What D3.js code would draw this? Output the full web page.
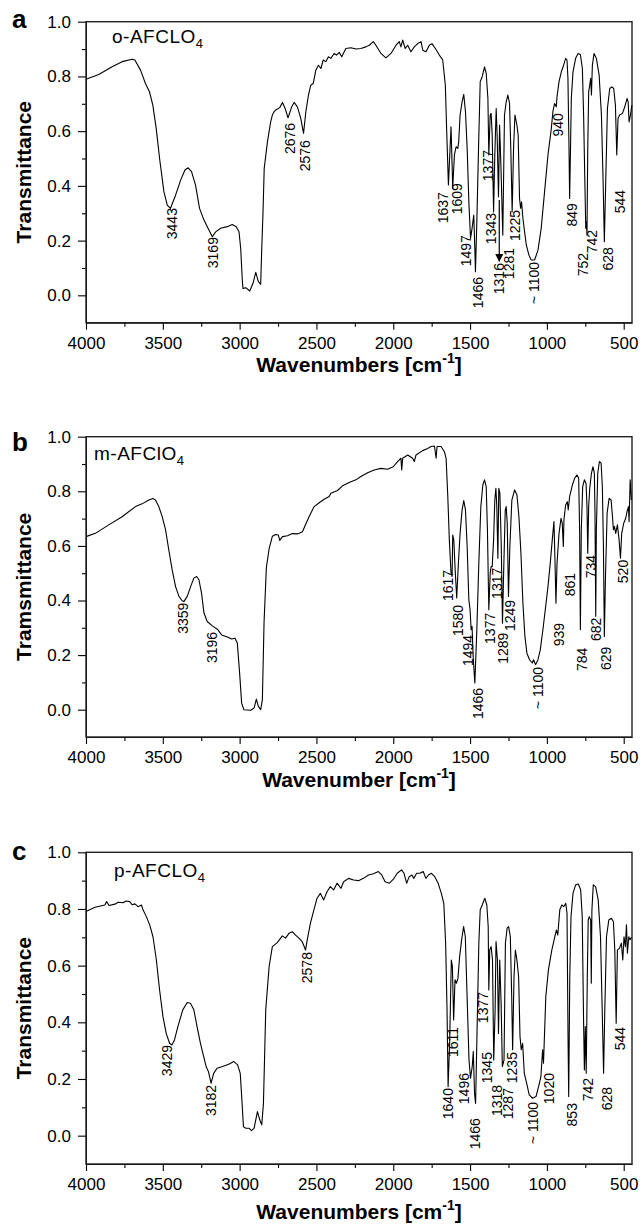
<!DOCTYPE html>
<html>
<head>
<meta charset="utf-8">
<script src="https://cdn.jsdelivr.net/npm/d3@7"></script>
<style>
  body { margin: 0; background: #fff; }
  text { font-family: "Liberation Sans", Arial, sans-serif; fill: #000; }
</style>
</head>
<body>
<div id="chart"></div>
<script>
// spectrum a : o-AFCLO4
const wnA = [4000,3917,3830,3765,3700,3682,3645,3613,3587,3565,3543,3521,3493,3471,3450,3417,3384,3356,3335,3313,3287,3261,3232,3200,3178,3156,3124,3080,3048,3022,3004,2993,2982,2978,2960,2934,2913,2895,2878,2863,2856,2848,2840,2819,2798,2787,2776,2765,2739,2721,2704,2685,2661,2645,2624,2602,2584,2569,2552,2537,2521,2504,2487,2471,2456,2439,2422,2406,2385,2369,2352,2335,2309,2276,2243,2211,2178,2156,2130,2113,2080,2048,2015,1982,1961,1950,1939,1922,1906,1885,1863,1841,1819,1808,1787,1765,1748,1726,1700,1678,1661,1652,1641,1624,1617,1613,1602,1591,1580,1574,1565,1552,1541,1530,1519,1508,1497,1487,1476,1469,1465,1456,1445,1434,1421,1406,1395,1384,1378,1369,1363,1356,1347,1339,1330,1324,1315,1308,1300,1287,1276,1265,1254,1243,1235,1226,1217,1208,1195,1187,1178,1171,1165,1156,1145,1134,1117,1102,1080,1058,1037,1015,993,971,961,950,939,934,921,906,891,878,869,863,856,852,847,841,830,813,797,782,769,761,752,747,743,739,734,728,721,715,710,704,693,678,660,645,634,626,617,606,591,578,565,554,545,537,526,508,493,478,471,465,456,447];
const trA = [.790,.807,.835,.854,.863,.860,.823,.774,.744,.695,.610,.500,.379,.330,.318,.366,.421,.458,.466,.452,.403,.318,.275,.239,.214,.232,.245,.251,.259,.251,.232,.171,.050,.025,.028,.016,.044,.084,.050,.040,.171,.300,.464,.561,.634,.659,.671,.677,.686,.705,.683,.649,.689,.705,.689,.647,.592,.671,.732,.768,.774,.823,.841,.829,.860,.854,.872,.866,.884,.878,.888,.872,.902,.905,.900,.902,.908,.914,.927,.914,.884,.868,.884,.914,.927,.908,.933,.902,.914,.890,.908,.920,.927,.896,.890,.914,.920,.902,.878,.860,.768,.598,.403,.616,.476,.391,.513,.543,.537,.561,.659,.707,.734,.671,.537,.342,.208,.245,.293,.172,.086,.269,.537,.781,.799,.835,.811,.720,.513,.659,.665,.586,.305,.513,.683,.586,.360,.622,.488,.220,.659,.707,.732,.701,.537,.305,.537,.659,.622,.586,.354,.318,.342,.281,.232,.184,.147,.129,.129,.165,.245,.379,.513,.610,.671,.701,.689,.726,.781,.817,.841,.866,.860,.793,.537,.354,.513,.720,.817,.866,.884,.880,.829,.659,.391,.245,.269,.220,.537,.744,.768,.793,.732,.841,.884,.866,.805,.659,.415,.196,.415,.683,.756,.762,.756,.695,.513,.647,.659,.665,.689,.720,.707,.634,.659,.695];

// spectrum b : m-AFClO4
const wnB = [4000,3939,3852,3765,3678,3635,3591,3565,3548,3526,3504,3482,3461,3439,3417,3395,3374,3363,3341,3319,3298,3280,3265,3248,3232,3211,3178,3145,3117,3080,3052,3030,3015,3000,2987,2972,2928,2906,2891,2878,2863,2852,2841,2826,2808,2787,2765,2748,2739,2721,2689,2656,2624,2613,2591,2569,2548,2537,2515,2482,2450,2417,2406,2363,2330,2287,2243,2211,2167,2124,2080,2037,2000,1972,1950,1945,1939,1906,1874,1863,1852,1809,1776,1754,1732,1721,1715,1689,1667,1656,1645,1635,1624,1617,1613,1606,1597,1587,1576,1565,1552,1541,1530,1519,1508,1500,1493,1487,1480,1469,1456,1443,1430,1417,1406,1395,1387,1378,1369,1363,1356,1347,1339,1332,1326,1319,1313,1306,1297,1289,1280,1271,1265,1258,1250,1241,1228,1210,1195,1182,1169,1156,1143,1130,1113,1095,1087,1074,1058,1043,1026,1008,993,978,965,954,947,941,934,921,908,900,893,889,878,867,861,852,834,819,804,793,787,782,776,767,756,745,739,734,728,721,710,700,691,687,682,678,669,658,647,639,632,626,619,608,595,582,573,567,560,552,541,530,521,513,500,487,478,469,465,458,450];
const trB = [.634,.646,.677,.707,.744,.754,.768,.774,.768,.744,.707,.659,.585,.512,.451,.415,.399,.396,.415,.451,.482,.488,.476,.427,.354,.323,.307,.295,.274,.266,.259,.262,.244,.134,.024,.000,-.002,.006,.039,.012,.000,.036,.320,.520,.590,.635,.642,.640,.620,.634,.637,.645,.644,.646,.652,.680,.707,.720,.744,.758,.771,.781,.793,.803,.820,.832,.842,.854,.868,.878,.884,.881,.890,.909,.921,.878,.921,.933,.921,.909,.933,.949,.957,.964,.966,.921,.964,.964,.945,.920,.781,.622,.500,.488,.640,.622,.512,.409,.537,.646,.732,.766,.732,.598,.402,.366,.293,.305,.195,.098,.293,.537,.744,.823,.842,.817,.659,.366,.500,.524,.524,.622,.768,.811,.744,.555,.811,.793,.598,.317,.537,.732,.744,.683,.415,.598,.768,.805,.787,.707,.573,.390,.268,.207,.183,.171,.183,.165,.183,.219,.293,.378,.451,.537,.622,.689,.537,.390,.537,.646,.701,.683,.598,.695,.750,.762,.732,.781,.823,.848,.860,.848,.659,.293,.659,.817,.842,.829,.744,.573,.744,.811,.866,.890,.866,.720,.342,.659,.866,.909,.903,.817,.598,.268,.476,.720,.774,.768,.707,.659,.671,.646,.677,.622,.555,.646,.683,.701,.726,.744,.689,.842,.768];

// spectrum c : p-AFCLO4
const wnC = [4000,3941,3877,3866,3850,3812,3790,3758,3740,3715,3700,3682,3661,3639,3629,3607,3585,3564,3542,3521,3499,3478,3456,3441,3424,3402,3370,3341,3320,3298,3277,3255,3234,3218,3203,3186,3169,3147,3111,3067,3039,3013,2996,2988,2975,2960,2938,2923,2906,2884,2869,2856,2845,2830,2808,2787,2755,2722,2701,2679,2657,2636,2614,2593,2571,2560,2539,2517,2496,2474,2453,2431,2410,2388,2366,2340,2323,2291,2258,2226,2194,2161,2129,2097,2075,2053,2025,1999,1974,1946,1930,1913,1896,1879,1866,1848,1827,1805,1788,1771,1751,1730,1708,1687,1671,1659,1650,1643,1633,1622,1615,1607,1598,1589,1579,1568,1555,1542,1531,1520,1507,1497,1486,1479,1471,1464,1454,1443,1434,1421,1404,1391,1382,1378,1372,1363,1354,1346,1337,1331,1322,1315,1307,1298,1290,1279,1270,1259,1249,1238,1229,1223,1214,1205,1195,1184,1175,1167,1158,1147,1132,1115,1093,1071,1054,1039,1028,1022,1007,990,968,946,938,929,916,903,890,877,869,862,858,851,843,830,813,795,780,770,761,756,750,744,737,731,724,715,711,707,698,683,666,651,640,631,623,612,597,580,567,558,549,541,528,515,506,498,489,482,476,467,459,450];
const trC = [.791,.806,.814,.826,.812,.817,.824,.822,.828,.826,.815,.818,.808,.814,.797,.773,.743,.702,.620,.514,.420,.361,.326,.320,.338,.385,.444,.470,.467,.444,.385,.326,.279,.244,.226,.185,.220,.238,.244,.253,.262,.250,.220,.150,.032,.026,.026,.018,.026,.085,.056,.038,.114,.444,.597,.667,.681,.705,.697,.714,.720,.708,.697,.685,.655,.691,.750,.796,.838,.855,.832,.861,.879,.867,.891,.873,.896,.908,.902,.900,.908,.920,.924,.932,.920,.896,.891,.905,.926,.938,.926,.891,.914,.920,.908,.926,.926,.932,.908,.920,.926,.914,.891,.855,.820,.679,.444,.173,.326,.620,.597,.408,.550,.538,.555,.632,.691,.738,.702,.502,.267,.203,.244,.297,.150,.114,.385,.679,.797,.814,.838,.814,.738,.514,.655,.667,.620,.267,.444,.685,.620,.361,.620,.467,.244,.267,.679,.732,.738,.702,.491,.303,.561,.655,.620,.561,.350,.303,.326,.220,.185,.144,.132,.138,.173,.208,.303,.256,.491,.585,.655,.708,.726,.708,.797,.814,.808,.820,.785,.326,.138,.561,.773,.855,.885,.888,.867,.773,.397,.232,.385,.220,.561,.761,.773,.761,.538,.796,.885,.879,.832,.702,.444,.220,.444,.702,.761,.767,.755,.655,.397,.655,.661,.679,.620,.702,.667,.744,.644,.702,.691,.700];

// peak labels: text, wavenumber of label, transmittance at label top
const peakTextA = ['3443','3169','2676','2576','1637','1609','1497','1466','1377','1343','1316','1281','1225','~ 1100','940','849','752','742','628','544'];
const peakWnA   = [3442,3172,2672,2575,1675,1587,1527,1447,1386,1364,1310,1245,1208,1082,926,839,763,709,605,525];
const peakTopA  = [.319,.213,.630,.567,.377,.410,.220,.067,.531,.301,.118,.173,.312,.122,.666,.337,.155,.239,.176,.385];

const peakTextB = ['3359','3196','1617','1580','1494','1466','1377','1317','1289','1249','~ 1100','939','861','784','734','682','629','520'];
const peakWnB   = [3367,3182,1646,1581,1512,1447,1371,1327,1284,1241,1056,920,850,774,713,683,616,503];
const peakTopB  = [.392,.285,.512,.384,.274,.080,.355,.520,.282,.402,.157,.318,.501,.227,.567,.337,.231,.549];

const peakTextC = ['3429','3182','2578','1640','1611','1496','1466','1377','1345','1318','1287','1235','~ 1100','1020','853','742','628','544'];
const peakWnC   = [3475,3188,2564,1642,1610,1540,1468,1414,1392,1327,1252,1230,1089,985,839,731,611,525];
const peakTopC  = [.320,.179,.648,.168,.384,.221,.062,.507,.295,.179,.168,.295,.119,.221,.115,.204,.172,.384];

// arrow marking 1316 in a
const arrowWnA = 1310;
const arrowTrA = [.348, .125];

const xMajor = [4000,3500,3000,2500,2000,1500,1000,500];
const xMinor = [3750,3250,2750,2250,1750,1250,750];
const yMajor = [0,.2,.4,.6,.8,1];
const yMinor = [.1,.3,.5,.7,.9];

const W = 643, H = 1228;
const left = 86, right = 632;

const panels = [
  {letter:'a', name:'o-AFCLO', wn:wnA, tr:trA, pt:peakTextA, pw:peakWnA, pp:peakTopA,
   top:21.7, bottom:322.7, nameX:112, nameY:43, letterY:28, yTitle:'Transmittance', xTitle:'Wavenumbers [cm', xTitleY:372, arrow:true},
  {letter:'b', name:'m-AFClO', wn:wnB, tr:trB, pt:peakTextB, pw:peakWnB, pp:peakTopB,
   top:436.7, bottom:737, nameX:94, nameY:460, letterY:451, yTitle:'Tramsmittance', xTitle:'Wavenumber [cm', xTitleY:787},
  {letter:'c', name:'p-AFCLO', wn:wnC, tr:trC, pt:peakTextC, pw:peakWnC, pp:peakTopC,
   top:852.3, bottom:1164, nameX:114, nameY:877, letterY:860, yTitle:'Transmittance', xTitle:'Wavenumbers [cm', xTitleY:1219}
];

const svg = d3.select('#chart').append('svg')
  .attr('width', W).attr('height', H)
  .attr('viewBox', `0 0 ${W} ${H}`);

svg.append('defs').append('marker')
  .attr('id','arrowhead').attr('viewBox','0 0 10 10')
  .attr('refX',9).attr('refY',5)
  .attr('markerWidth',7).attr('markerHeight',7)
  .attr('orient','auto')
  .append('path').attr('d','M0,0 L10,5 L0,10 z').attr('fill','#000');

const x = d3.scaleLinear().domain([4000, 446]).range([left, right]);

panels.forEach(p => {
  const y = d3.scaleLinear().domain([-0.1, 1.0]).range([p.bottom, p.top]);
  const g = svg.append('g');

  // minor ticks
  g.append('g').attr('transform', `translate(0,${p.bottom})`)
    .call(d3.axisBottom(x).tickValues(xMinor).tickSize(4).tickSizeOuter(0).tickFormat(''))
    .call(a => a.select('.domain').remove());
  g.append('g').attr('transform', `translate(${left},0)`)
    .call(d3.axisLeft(y).tickValues(yMinor).tickSize(4).tickSizeOuter(0).tickFormat(''))
    .call(a => a.select('.domain').remove());

  // major axes
  const xa = g.append('g').attr('transform', `translate(0,${p.bottom})`)
    .call(d3.axisBottom(x).tickValues(xMajor).tickSize(7).tickSizeOuter(0).tickPadding(7).tickFormat(d3.format('d')));
  const ya = g.append('g').attr('transform', `translate(${left},0)`)
    .call(d3.axisLeft(y).tickValues(yMajor).tickSize(8).tickSizeOuter(0).tickPadding(7).tickFormat(d3.format('.1f')));
  [xa, ya].forEach(a => {
    a.selectAll('text').style('font-size','17px').attr('fill','#000')
      .style('font-family','"Liberation Sans", Arial, sans-serif');
  });
  g.selectAll('.tick line').attr('stroke','#000').attr('stroke-width',1.1);

  // frame
  g.append('rect')
    .attr('x', left).attr('y', p.top)
    .attr('width', right - left).attr('height', p.bottom - p.top)
    .attr('fill','none').attr('stroke','#222').attr('stroke-width',1.4);

  // spectrum
  const pts = p.wn.map((w, i) => [w, p.tr[i]]);
  g.append('path').datum(pts)
    .attr('fill','none').attr('stroke','#000').attr('stroke-width',1.1)
    .attr('stroke-linejoin','round')
    .attr('d', d3.line().x(d => x(d[0])).y(d => y(d[1])));

  // peak labels
  g.selectAll('.peak').data(p.pt).enter().append('text')
    .attr('class','peak')
    .attr('transform', (d, i) => `translate(${x(p.pw[i])},${y(p.pp[i])}) rotate(-90)`)
    .attr('text-anchor','end')
    .attr('dy','0.36em')
    .style('font-size','14px')
    .text(d => d);

  if (p.arrow) {
    g.append('line')
      .attr('x1', x(arrowWnA)).attr('x2', x(arrowWnA))
      .attr('y1', y(arrowTrA[0])).attr('y2', y(arrowTrA[1]))
      .attr('stroke','#000').attr('stroke-width',1.2)
      .attr('marker-end','url(#arrowhead)');
  }

  // sample name
  const nm = g.append('text').attr('x', p.nameX).attr('y', p.nameY)
    .style('font-size','19px').style('letter-spacing','0.5px');
  nm.append('tspan').text(p.name);
  nm.append('tspan').attr('dy', 5).style('font-size','13px').style('letter-spacing','0px').text('4');

  // panel letter
  g.append('text').attr('x', 12).attr('y', p.letterY)
    .style('font-size','26px').style('font-weight','bold').text(p.letter);

  // axis titles
  g.append('text')
    .attr('transform', `translate(31,${(p.top + p.bottom) / 2}) rotate(-90)`)
    .attr('text-anchor','middle')
    .style('font-size','21px').style('font-weight','bold')
    .text(p.yTitle);

  const xt = g.append('text')
    .attr('x', (left + right) / 2).attr('y', p.xTitleY)
    .attr('text-anchor','middle')
    .style('font-size','21px').style('font-weight','bold');
  xt.append('tspan').text(p.xTitle);
  xt.append('tspan').attr('dy', -9).style('font-size','14px').text('-1');
  xt.append('tspan').attr('dy', 9).text(']');
});
</script>
</body>
</html>
